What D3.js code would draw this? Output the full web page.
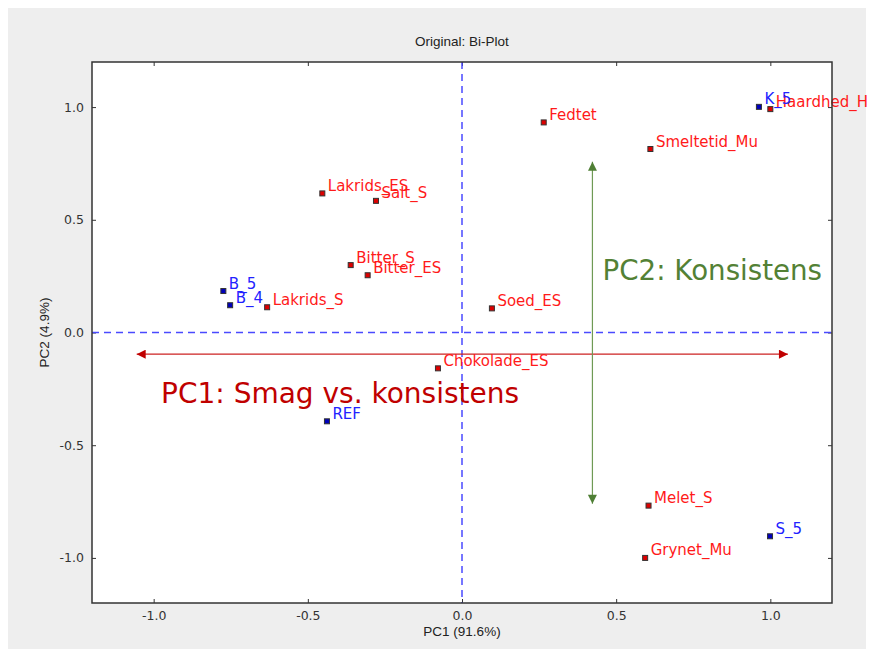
<!DOCTYPE html>
<html>
<head>
<meta charset="utf-8">
<script src="https://cdn.jsdelivr.net/npm/d3@7"></script>
<style>
  body { margin: 0; background: #fff; }
  svg text { font-family: "DejaVu Sans", sans-serif; }
</style>
</head>
<body>
<svg id="chart" width="872" height="649"></svg>
<script>
const sampleNames = ["K_5", "B_5", "B_4", "REF", "S_5"];
const sampleX = [0.963, -0.774, -0.752, -0.438, 0.999];
const sampleY = [1.001, 0.184, 0.121, -0.394, -0.904];

const variableNames = ["Haardhed_H", "Fedtet", "Smeltetid_Mu", "Lakrids_ES", "Salt_S",
  "Bitter_S", "Bitter_ES", "Lakrids_S", "Soed_ES", "Chokolade_ES", "Melet_S", "Grynet_Mu"];
const variableX = [1.000, 0.265, 0.611, -0.453, -0.279, -0.361, -0.306, -0.632, 0.097, -0.078, 0.605, 0.594];
const variableY = [0.991, 0.932, 0.814, 0.617, 0.584, 0.299, 0.254, 0.112, 0.107, -0.159, -0.768, -1.000];

const ticks = [-1.0, -0.5, 0.0, 0.5, 1.0];

// PC interpretation arrows and their captions
const pc1Arrow = { x1: -1.055, x2: 1.057, y: -0.096 };
const pc2Arrow = { x: 0.423, y1: 0.757, y2: -0.760 };
const pc1Caption = { text: "PC1: Smag vs. konsistens", x: -0.976, y: -0.311 };
const pc2Caption = { text: "PC2: Konsistens", x: 0.456, y: 0.233 };

const svg = d3.select("#chart");
const margin = { left: 92, top: 62, right: 40, bottom: 46 };
const width = 872 - margin.left - margin.right;
const height = 649 - margin.top - margin.bottom;

// Figure background
svg.append("rect").attr("x", 8).attr("y", 8).attr("width", 858).attr("height", 641).attr("fill", "#eeeeee");

const x = d3.scaleLinear().domain([-1.2, 1.2]).range([0, width]);
const y = d3.scaleLinear().domain([-1.2, 1.2]).range([height, 0]);

const g = svg.append("g").attr("transform", `translate(${margin.left},${margin.top})`);

g.append("rect").attr("width", width).attr("height", height).attr("fill", "#fff");

// Title and axis labels
const labelFont = "'Liberation Sans', Arial, sans-serif";
svg.append("text")
  .attr("x", margin.left + width / 2).attr("y", 45.5)
  .attr("text-anchor", "middle")
  .style("font-family", labelFont)
  .style("font-size", "13.5px").attr("fill", "#222")
  .text("Original: Bi-Plot");

svg.append("text")
  .attr("x", margin.left + width / 2).attr("y", 636)
  .attr("text-anchor", "middle")
  .style("font-family", labelFont)
  .style("font-size", "13.5px").attr("fill", "#222")
  .text("PC1 (91.6%)");

svg.append("text")
  .attr("transform", `translate(49,${margin.top + height / 2}) rotate(-90)`)
  .attr("text-anchor", "middle")
  .style("font-family", labelFont)
  .style("font-size", "13.5px").attr("fill", "#222")
  .text("PC2 (4.9%)");

// Axes with inward ticks on all four sides
const fmt = d3.format(".1f");
const tickFmt = d => fmt(d).replace("−", "-");
const xBottom = g.append("g").attr("transform", `translate(0,${height})`)
  .call(d3.axisBottom(x).tickValues(ticks).tickSize(-4).tickPadding(8).tickFormat(tickFmt));
const xTop = g.append("g")
  .call(d3.axisTop(x).tickValues(ticks).tickSize(-4).tickFormat(""));
const yLeft = g.append("g")
  .call(d3.axisLeft(y).tickValues(ticks).tickSize(-4).tickPadding(8).tickFormat(tickFmt));
const yRight = g.append("g").attr("transform", `translate(${width},0)`)
  .call(d3.axisRight(y).tickValues(ticks).tickSize(-4).tickFormat(""));

[xBottom, xTop, yLeft, yRight].forEach(a => {
  a.select(".domain").remove();
  a.selectAll(".tick line").attr("stroke", "#333");
  a.selectAll(".tick text").style("font-size", "12.5px").attr("fill", "#333")
    .style("font-family", "'DejaVu Sans', sans-serif");
});

// Zero lines
g.append("line")
  .attr("x1", x(0)).attr("x2", x(0)).attr("y1", 0).attr("y2", height)
  .attr("stroke", "#4a4aff").attr("stroke-width", 1.5).attr("stroke-dasharray", "7,5");
g.append("line")
  .attr("x1", 0).attr("x2", width).attr("y1", y(0)).attr("y2", y(0))
  .attr("stroke", "#4a4aff").attr("stroke-width", 1.5).attr("stroke-dasharray", "7,5");

// Arrow heads
const defs = svg.append("defs");
[["headRed", "#c00000"], ["headGreen", "#4f7f35"]].forEach(([id, col]) => {
  defs.append("marker")
    .attr("id", id).attr("viewBox", "0 0 10 10")
    .attr("refX", 10).attr("refY", 5)
    .attr("markerWidth", 10).attr("markerHeight", 9)
    .attr("markerUnits", "userSpaceOnUse")
    .attr("orient", "auto-start-reverse")
    .append("path").attr("d", "M0,0L10,5L0,10z").attr("fill", col);
});

g.append("line")
  .attr("x1", x(pc1Arrow.x1)).attr("x2", x(pc1Arrow.x2))
  .attr("y1", y(pc1Arrow.y)).attr("y2", y(pc1Arrow.y))
  .attr("stroke", "#cc2222").attr("stroke-width", 1.2)
  .attr("marker-start", "url(#headRed)").attr("marker-end", "url(#headRed)");

g.append("line")
  .attr("x1", x(pc2Arrow.x)).attr("x2", x(pc2Arrow.x))
  .attr("y1", y(pc2Arrow.y1)).attr("y2", y(pc2Arrow.y2))
  .attr("stroke", "#6f9a55").attr("stroke-width", 1.2)
  .attr("marker-start", "url(#headGreen)").attr("marker-end", "url(#headGreen)");

g.append("text")
  .attr("x", x(pc1Caption.x)).attr("y", y(pc1Caption.y))
  .style("font-size", "28px").attr("fill", "#c00000")
  .text(pc1Caption.text);

g.append("text")
  .attr("x", x(pc2Caption.x)).attr("y", y(pc2Caption.y))
  .style("font-size", "27.7px").attr("fill", "#538135")
  .text(pc2Caption.text);

// Points and labels
const samples = sampleNames.map((n, i) => ({ name: n, x: sampleX[i], y: sampleY[i] }));
const variables = variableNames.map((n, i) => ({ name: n, x: variableX[i], y: variableY[i] }));

function drawPoints(data, fill, labelColor) {
  const grp = g.append("g");
  grp.selectAll("rect").data(data).enter().append("rect")
    .attr("x", d => x(d.x) - 2.5).attr("y", d => y(d.y) - 2.5)
    .attr("width", 5).attr("height", 5)
    .attr("fill", fill).attr("stroke", "#333").attr("stroke-width", 1);
  grp.selectAll("text").data(data).enter().append("text")
    .attr("x", d => x(d.x) + 5.5).attr("y", d => y(d.y) - 2.5)
    .style("font-size", "15px").attr("fill", labelColor)
    .text(d => d.name);
}

drawPoints(variables, "#dd0000", "#ff1a1a");
drawPoints(samples, "#0000bb", "#2222ff");

// Frame (drawn on top, labels may run past the right edge)
g.append("rect").attr("width", width).attr("height", height)
  .attr("fill", "none").attr("stroke", "#333").attr("stroke-width", 1.5);
</script>
</body>
</html>
